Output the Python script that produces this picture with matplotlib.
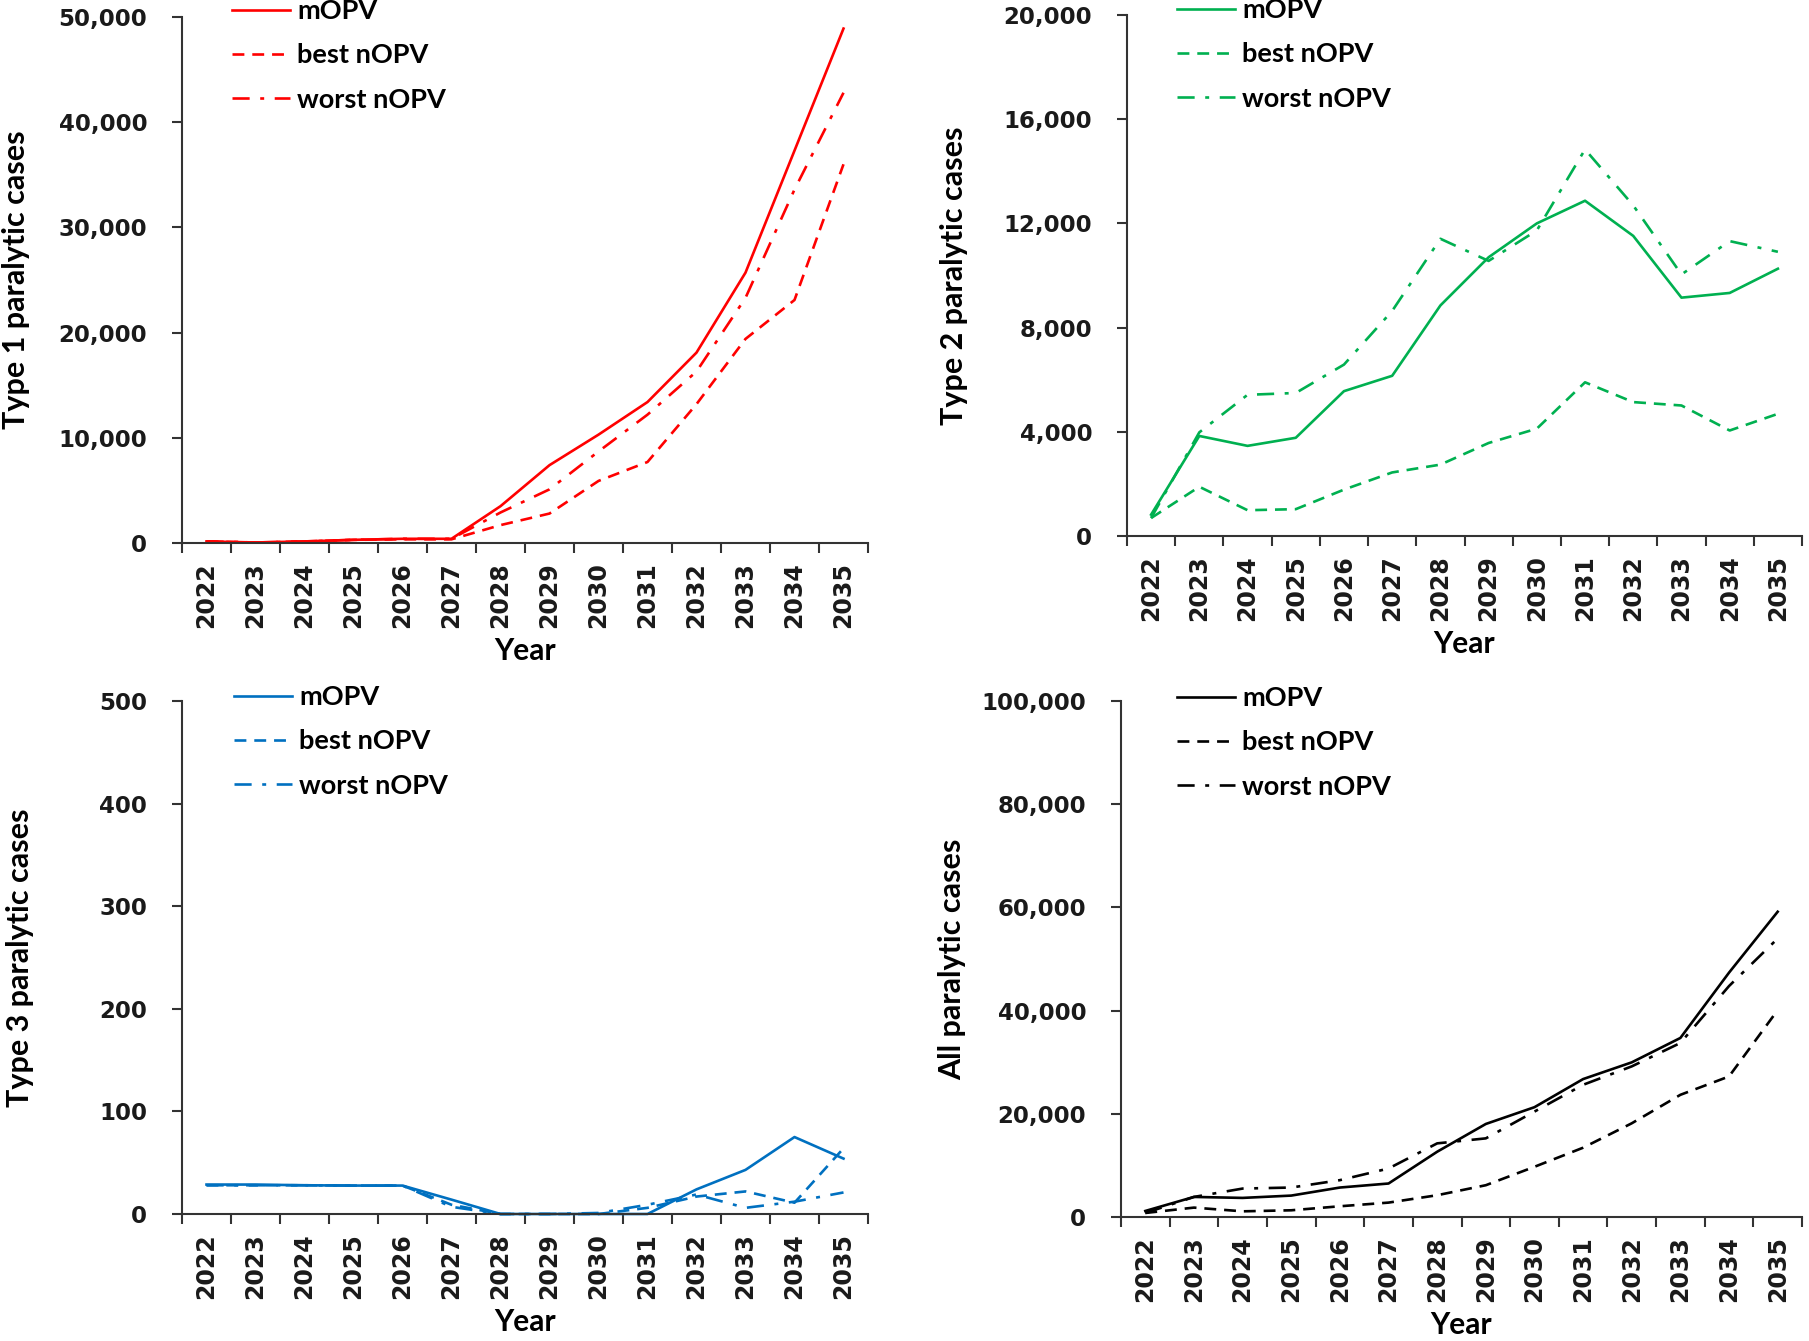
import matplotlib
matplotlib.use("Agg")
import matplotlib.pyplot as plt
from matplotlib.ticker import FuncFormatter, MultipleLocator
import numpy as np

years = [str(y) for y in range(2022, 2036)]
series_names = ["mOPV", "best nOPV", "worst nOPV"]

# Type 1 paralytic cases
type1_mopv = [150, 50, 150, 300, 400, 400, 3500, 7400, 10300, 13400, 18100, 25700, 37300, 48900]
type1_best = [150, 50, 150, 300, 350, 350, 1700, 2800, 5900, 7700, 13200, 19400, 23100, 36000]
type1_worst = [150, 50, 150, 300, 400, 400, 2900, 5100, 8700, 12200, 16300, 23300, 33600, 42800]

# Type 2 paralytic cases
type2_mopv = [820, 3840, 3460, 3770, 5560, 6150, 8850, 10700, 12000, 12870, 11520, 9150, 9330, 10260]
type2_best = [690, 1890, 990, 1030, 1780, 2440, 2740, 3570, 4120, 5900, 5140, 5010, 4050, 4690]
type2_worst = [690, 3980, 5420, 5490, 6580, 8640, 11410, 10560, 11730, 14840, 12690, 10040, 11320, 10910]

# Type 3 paralytic cases
type3_mopv = [28.7, 28.7, 28, 27.7, 27.7, 14, 0, 0, 0, 0, 24, 43, 75, 54]
type3_best = [28, 28, 28, 27.7, 27.7, 9, 0, 0, 0, 6, 17, 22, 11, 64]
type3_worst = [28, 28, 28, 27.7, 27.7, 7, 0, 0, 1, 9, 19, 6, 12, 21]

# All paralytic cases
all_mopv = [1170, 3890, 3700, 4150, 5710, 6490, 12650, 18030, 21280, 26730, 29970, 34700, 47360, 59160]
all_best = [780, 1820, 1100, 1300, 2080, 2790, 4220, 6160, 9730, 13430, 18160, 23680, 27240, 40090]
all_worst = [780, 3890, 5510, 5710, 7140, 9400, 14270, 15240, 20430, 25620, 29190, 33730, 44760, 53970]

W, H = 1809, 1341
fig = plt.figure(figsize=(W / 100, H / 100), dpi=100)

label_font = "Lato"
tick_font = "DejaVu Sans"
spine_col = "#333333"

def px_axes(left, top, right, bottom):
    return fig.add_axes([left / W, 1 - bottom / H, (right - left) / W, (bottom - top) / H])

def draw_panel(ax, mopv, best, worst, color, ymax, ystep, ylabel, ylab_x, legend_xy):
    x = np.arange(len(years))
    l1, = ax.plot(x, mopv, color=color, lw=1.9, solid_joinstyle="round")
    l2, = ax.plot(x, best, color=color, lw=1.9, dashes=(4.5, 3.0))
    l3, = ax.plot(x, worst, color=color, lw=1.9, dashes=(6.5, 4.0, 1.5, 4.0))
    ax.set_xlim(-0.5, len(years) - 0.5)
    ax.set_ylim(0, ymax)
    ax.yaxis.set_major_locator(MultipleLocator(ystep))
    ax.yaxis.set_major_formatter(FuncFormatter(lambda v, p: f"{int(v):,}"))
    ax.set_xticks(x)
    ax.set_xticklabels(years, rotation=90)
    ax.set_xticks(np.arange(-0.5, len(years)), minor=True)
    ax.tick_params(axis="x", which="major", length=0, pad=14)
    ax.tick_params(axis="x", which="minor", length=7, width=1.5, color=spine_col, direction="out")
    ax.tick_params(axis="y", length=7, width=1.5, color=spine_col, pad=18)
    for lab in ax.get_xticklabels():
        lab.set_fontfamily(tick_font)
        lab.set_fontweight("bold")
        lab.set_fontsize(17)
        lab.set_color("#1a1a1a")
    for lab in ax.get_yticklabels():
        lab.set_fontfamily(tick_font)
        lab.set_fontweight("bold")
        lab.set_fontsize(16.5)
        lab.set_color("#1a1a1a")
    for s in ["top", "right"]:
        ax.spines[s].set_visible(False)
    for s in ["left", "bottom"]:
        ax.spines[s].set_linewidth(1.5)
        ax.spines[s].set_color(spine_col)
    ax.set_ylabel(ylabel, fontfamily=label_font, fontweight="bold", fontsize=22)
    ax.yaxis.set_label_coords(ylab_x, 0.5)
    ax.set_xlabel("Year", fontfamily=label_font, fontweight="bold", fontsize=21.5, labelpad=6)
    for a in ax.lines:
        a.set_clip_on(False)
    fig.legend([l1, l2, l3], series_names, loc="upper left",
               bbox_to_anchor=(legend_xy[0] / W, 1 - legend_xy[1] / H),
               frameon=False, handlelength=2.15, handletextpad=0.25,
               labelspacing=0.75, borderpad=0, borderaxespad=0,
               prop={"family": label_font, "weight": "bold", "size": 19.5})

ax1 = px_axes(182, 17, 868, 543)
draw_panel(ax1, type1_mopv, type1_best, type1_worst, "#FF0000", 50000, 10000,
           "Type 1 paralytic cases", -0.221, (232, -1))

ax2 = px_axes(1127, 15, 1802, 536)
draw_panel(ax2, type2_mopv, type2_best, type2_worst, "#00B050", 20000, 4000,
           "Type 2 paralytic cases", -0.236, (1177, -2))

ax3 = px_axes(182, 701, 868, 1214)
draw_panel(ax3, type3_mopv, type3_best, type3_worst, "#0070C0", 500, 100,
           "Type 3 paralytic cases", -0.216, (234, 685))

ax4 = px_axes(1121, 701, 1802, 1217)
draw_panel(ax4, all_mopv, all_best, all_worst, "#000000", 100000, 20000,
           "All paralytic cases", -0.228, (1177, 686))

fig.savefig("out.png", dpi=100)
